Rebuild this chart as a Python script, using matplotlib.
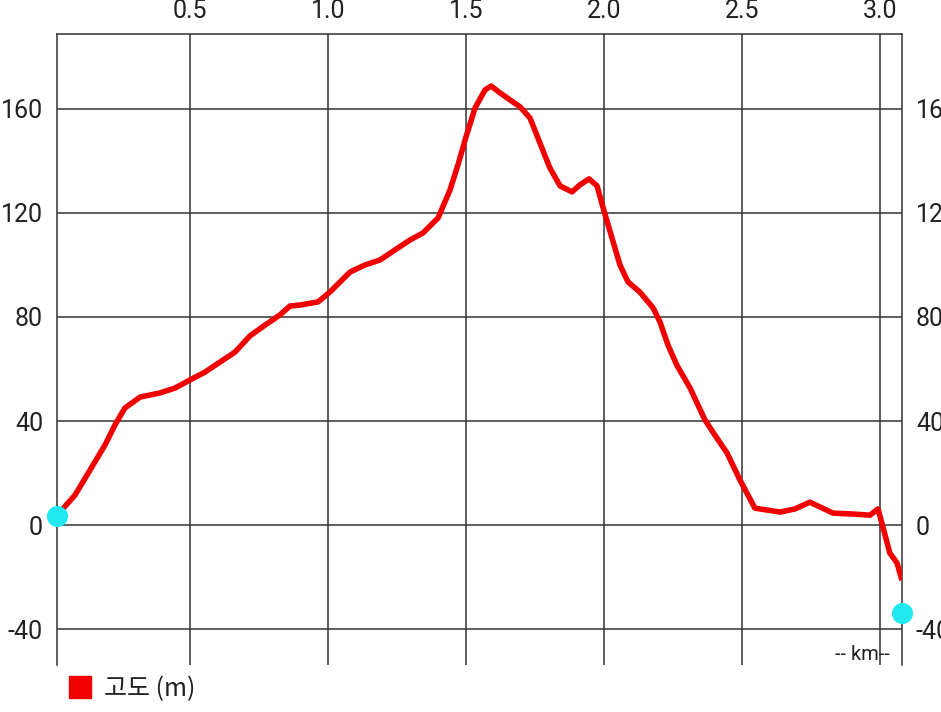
import matplotlib
matplotlib.use("Agg")
import matplotlib.pyplot as plt
from matplotlib.patches import Rectangle

plt.rcParams['font.family'] = ['Roboto', 'Noto Sans CJK KR', 'DejaVu Sans']

# distance (km) and elevation (m)
dist_km = [0.029, 0.083, 0.138, 0.192, 0.228, 0.264, 0.319, 0.391, 0.446, 0.500,
           0.554, 0.609, 0.663, 0.717, 0.772, 0.826, 0.862, 0.899, 0.964, 1.007,
           1.080, 1.134, 1.188, 1.243, 1.297, 1.344, 1.399, 1.442, 1.471, 1.500,
           1.533, 1.569, 1.591, 1.623, 1.659, 1.696, 1.732, 1.768, 1.804, 1.841,
           1.884, 1.913, 1.946, 1.975, 1.996, 2.029, 2.058, 2.087, 2.130, 2.178,
           2.203, 2.232, 2.264, 2.312, 2.366, 2.402, 2.446, 2.493, 2.547, 2.638,
           2.692, 2.746, 2.830, 2.909, 2.964, 2.993, 3.011, 3.036, 3.062, 3.080]
elev_m = [5.0, 11.5, 21.2, 30.8, 38.5, 45.0, 49.2, 50.8, 52.7, 55.8,
          58.8, 62.7, 66.5, 72.7, 76.9, 80.8, 84.2, 84.6, 85.8, 89.6,
          97.3, 100.0, 101.9, 105.8, 109.6, 112.3, 118.1, 128.8, 138.5, 149.2,
          160.4, 167.3, 168.8, 166.2, 163.5, 160.8, 156.5, 146.9, 137.3, 130.4,
          128.1, 130.8, 133.1, 130.4, 122.3, 110.4, 100.0, 93.5, 89.6, 83.5,
          78.1, 69.2, 61.5, 52.7, 40.4, 34.6, 27.7, 17.3, 6.5, 5.0,
          6.2, 8.8, 4.6, 4.2, 3.8, 6.2, -0.8, -10.8, -14.6, -21.2]

# start / end markers
mark_km = [0.018, 3.080]
mark_m = [3.5, -33.8]

x_ticks = [0.5, 1.0, 1.5, 2.0, 2.5, 3.0]
y_ticks = [-40, 0, 40, 80, 120, 160]

fig = plt.figure(figsize=(9.41, 7.12), dpi=100)
ax = fig.add_axes([57/941, 1-665/712, (902-57)/941, (665-34)/712])

ax.plot(dist_km, elev_m, color='#f00000', lw=4.0, solid_joinstyle='round',
        solid_capstyle='butt', zorder=3)
ax.scatter(mark_km, mark_m, s=200, color='#22e8f0', zorder=4, clip_on=False)

ax.set_xlim(0.018, 3.080)
ax.set_ylim(-53.8, 188.8)
ax.set_xticks(x_ticks)
ax.set_xticklabels([f"{v:.1f}" for v in x_ticks])
ax.set_yticks(y_ticks)
ax.set_yticklabels([str(v) for v in y_ticks])

gc = '#333333'
ax.grid(True, color=gc, lw=1.1)
for s in ['top', 'left', 'right']:
    ax.spines[s].set_color(gc)
    ax.spines[s].set_linewidth(1.1)
ax.spines['bottom'].set_visible(False)

ax.tick_params(axis='x', length=0, labelbottom=False, labeltop=True, pad=8,
               labelsize=18, labelcolor='#222222')
ax.tick_params(axis='y', length=0, left=False, right=False, labelleft=True,
               labelright=True, pad=10, labelsize=18, labelcolor='#222222')

ax.text(0.953, 0.016, '-- km--', transform=ax.transAxes, ha='center', va='center',
        fontsize=14.5, color='#222222')

# legend drawn by hand
fig.patches.append(Rectangle((69/941, 1-698/712), 22/941, 22/712,
                             transform=fig.transFigure, color='#f00000'))
fig.text(104/941, 1-689/712, '고도 (m)', ha='left', va='center', fontsize=18,
         color='#222222', family=['Noto Sans CJK KR', 'DejaVu Sans'])

fig.savefig('out.png', dpi=100)
